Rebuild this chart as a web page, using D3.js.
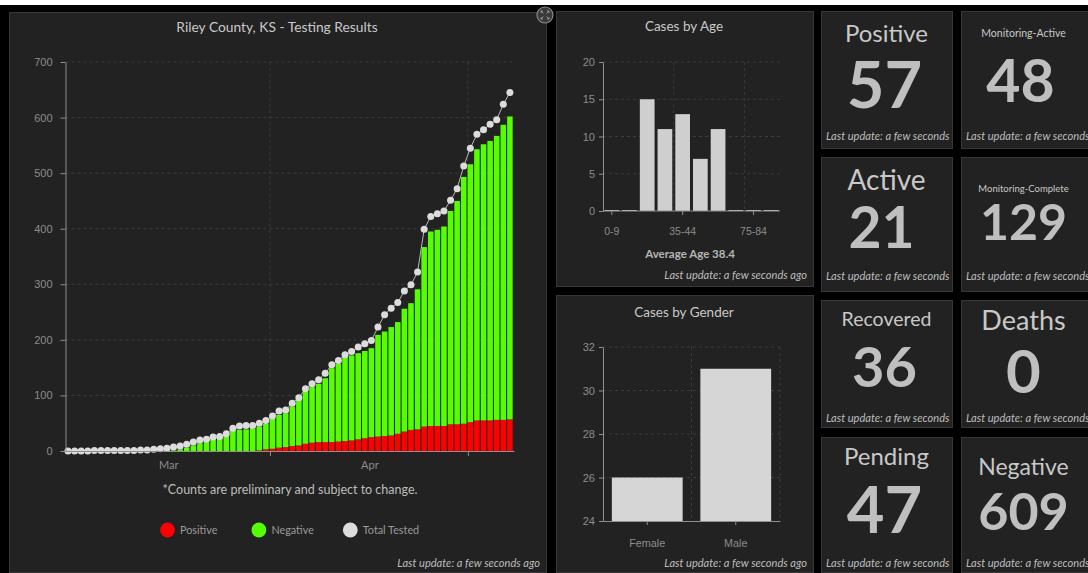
<!DOCTYPE html>
<html>
<head>
<meta charset="utf-8">
<script src="https://cdn.jsdelivr.net/npm/d3@7"></script>
<style>
  html, body { margin: 0; padding: 0; background: #000; }
  svg { display: block; font-family: Lato, "Open Sans", sans-serif; }
</style>
</head>
<body>
<svg id="dash" width="1088" height="573"></svg>
<script>
// ---- data ----
const startDay = '2020-03-01';
const totalTested = [0,0,0,0,1,1,1,1,1,1, 1,2,2,3,4,5,7,9,12,16,
  20,21,25,26,31,41,45,46,46,50, 55,63,72,74,86,96,112,121,128,140,
  155,163,173,179,187,193,199,223,245,257, 267,288,299,322,399,422,427,432,451,472,
  513,545,570,578,588,596,624,645];
const positive = [0,0,0,0,0,0,0,0,0,0, 0,0,0,0,0,0,0,0,0,0,
  0,0,0,0,0,0,0,0,0,1, 3,4,6,7,9,10,13,15,16,16,
  16,17,18,19,21,23,25,26,27,28, 31,35,38,39,44,45,45,45,48,48,
  49,52,55,55,55,56,56,57];
const negative = [0,0,0,0,0,0,0,0,0,0, 0,0,0,0,0,0,1,3,6,10,
  14,16,20,22,28,36,38,39,41,43, 46,55,59,61,71,82,94,100,105,115,
  133,140,151,153,155,157,160,183,188,195, 201,221,228,252,323,350,353,359,384,402,
  444,464,488,497,503,511,531,545];
const yTicksMain = [0,100,200,300,400,500,600,700];
const monthStarts = ['2020-03-01','2020-04-01','2020-05-01'];
const monthLabels = ['Mar','Apr'];
const legendItems = ['Positive','Negative','Total Tested'];

const ageGroups = ['0-9','10-17','18-24','25-34','35-44','45-54','55-64','65-74','75-84','85+'];
const ageCases = [0,0,15,11,13,7,11,0,0,0];
const ageShown = ['0-9','35-44','75-84'];
const ageTicks = [0,5,10,15,20];

const genders = ['Female','Male'];
const genderCases = [26,31];
const genderTicks = [24,26,28,30,32];

const cardTitles = ['Positive','Monitoring-Active','Active','Monitoring-Complete','Recovered','Deaths','Pending','Negative'];
const cardValues = [57,48,21,129,36,0,47,609];

// ---- helpers ----
const svg = d3.select('#dash');
const GRID = '#3b3b3b', AXIS = '#8f8f8f', LABEL = '#8c8c8c', TITLE = '#c9c9c9';
const lastUpdate = 'Last update: a few seconds ago';

svg.append('rect').attr('x', 0).attr('y', 0).attr('width', 1088).attr('height', 5).attr('fill', '#fff');

function panel(x, y, w, h) {
  svg.append('rect').attr('x', x + 0.5).attr('y', y + 0.5).attr('width', w).attr('height', h)
    .attr('fill', '#222').attr('stroke', '#383838');
}
function styleAxis(g, size) {
  g.select('.domain').attr('stroke', AXIS);
  g.selectAll('.tick line').attr('stroke', AXIS);
  g.selectAll('.tick text').attr('fill', LABEL).attr('font-size', size || 11);
}
function footer(xRight, yBase) {
  svg.append('text').attr('x', xRight).attr('y', yBase).attr('text-anchor', 'end')
    .attr('font-style', 'italic').attr('font-size', 11.1).attr('fill', '#bdbdbd').text(lastUpdate);
}

// ---- main testing chart ----
panel(9, 12, 537, 560);
svg.append('text').attr('x', 277).attr('y', 32).attr('text-anchor', 'middle')
  .attr('font-size', 13.8).attr('fill', TITLE).text('Riley County, KS - Testing Results');

const parseDay = d3.utcParse('%Y-%m-%d');
const day0 = parseDay(startDay);
const days = totalTested.map((d, i) => d3.utcDay.offset(day0, i));
const x = d3.scaleUtc().domain([day0, d3.utcDay.offset(day0, totalTested.length)]).range([65.5, 514]);
const y = d3.scaleLinear().domain([0, 700]).range([451, 62]);
const step = x(days[1]) - x(days[0]);
const bw = step * 0.84;
const mid = d => x(d) + step / 2 - 0.8;
const months = monthStarts.map(parseDay);

const gm = svg.append('g');
gm.selectAll('.hgrid').data(yTicksMain.slice(1)).join('line')
  .attr('x1', x.range()[0]).attr('x2', x.range()[1]).attr('y1', d => y(d)).attr('y2', d => y(d))
  .attr('stroke', GRID).attr('stroke-dasharray', '3,3');
gm.selectAll('.vgrid').data(months.slice(1)).join('line')
  .attr('x1', d => x(d)).attr('x2', d => x(d)).attr('y1', y(700)).attr('y2', y(0))
  .attr('stroke', GRID).attr('stroke-dasharray', '3,3');

gm.selectAll('.pos').data(days).join('rect')
  .attr('x', d => mid(d) - bw / 2).attr('width', bw)
  .attr('y', (d, i) => y(positive[i])).attr('height', (d, i) => y(0) - y(positive[i]))
  .attr('fill', '#ff0000');
gm.selectAll('.neg').data(days).join('rect')
  .attr('x', d => mid(d) - bw / 2).attr('width', bw)
  .attr('y', (d, i) => y(positive[i] + negative[i]))
  .attr('height', (d, i) => y(positive[i]) - y(positive[i] + negative[i]))
  .attr('fill', '#55ff00');

const line = d3.line().x(d => mid(d)).y((d, i) => y(totalTested[i]));
gm.append('path').datum(days).attr('d', line).attr('fill', 'none').attr('stroke', '#b8b8b8').attr('stroke-width', 1);
gm.selectAll('.dot').data(days).join('circle')
  .attr('cx', d => mid(d)).attr('cy', (d, i) => y(totalTested[i])).attr('r', 3.5)
  .attr('fill', '#dcdcdc');

const gy = gm.append('g').attr('transform', `translate(${x.range()[0]},0)`)
  .call(d3.axisLeft(y).tickValues(yTicksMain).tickSize(5).tickPadding(8).tickSizeOuter(0));
styleAxis(gy, 11);
const gx = gm.append('g').attr('transform', `translate(0,${y(0)})`)
  .call(d3.axisBottom(x).tickValues(months.slice(1)).tickFormat('').tickSize(5).tickSizeOuter(0));
styleAxis(gx);
gm.selectAll('.mlab').data(monthLabels).join('text')
  .attr('x', (d, i) => (x(months[i]) + x(months[i + 1])) / 2 + 1).attr('y', 469)
  .attr('text-anchor', 'middle').attr('font-size', 11).attr('fill', LABEL).text(d => d);

svg.append('text').attr('x', 290).attr('y', 494).attr('text-anchor', 'middle')
  .attr('font-size', 12.5).attr('fill', '#bdbdbd').text('*Counts are preliminary and subject to change.');
const legendColors = ['#ff0000', '#55ff00', '#dcdcdc'];
const lg = svg.selectAll('.leg').data(legendItems).join('g')
  .attr('transform', (d, i) => `translate(${167.5 + i * 91.4},530)`);
lg.append('circle').attr('r', 7.4).attr('fill', (d, i) => legendColors[i]);
lg.append('text').attr('x', 12.5).attr('y', 4).attr('font-size', 10.8).attr('fill', '#9a9a9a').text(d => d);
footer(540, 567);

// expand icon
const ic = svg.append('g').attr('transform', 'translate(545,15)');
ic.append('circle').attr('r', 8).attr('fill', '#3a3a3a').attr('stroke', '#8a8a8a').attr('stroke-width', 1.2);
[[-1,-1],[1,-1],[-1,1],[1,1]].forEach(([sx, sy]) => {
  ic.append('path').attr('d', `M${sx*1.5},${sy*1.5}L${sx*4},${sy*4}M${sx*4},${sy*2}L${sx*4},${sy*4}L${sx*2},${sy*4}`)
    .attr('stroke', '#9a9a9a').attr('stroke-width', 0.9).attr('fill', 'none');
});

// ---- cases by age ----
panel(556, 11, 257, 275);
svg.append('text').attr('x', 684).attr('y', 31).attr('text-anchor', 'middle')
  .attr('font-size', 13.5).attr('fill', TITLE).text('Cases by Age');
const xa = d3.scaleBand().domain(ageGroups).range([603, 780]).paddingInner(0.17).paddingOuter(0.08);
const ya = d3.scaleLinear().domain([0, 20]).range([211, 62]);
const ga = svg.append('g');
ga.selectAll('.hg').data(ageTicks.slice(1)).join('line')
  .attr('x1', 603).attr('x2', 780).attr('y1', d => ya(d)).attr('y2', d => ya(d))
  .attr('stroke', GRID).attr('stroke-dasharray', '3,3');
ga.selectAll('.vg').data(ageShown.slice(1)).join('line')
  .attr('x1', d => xa(d) - xa.step() * xa.paddingInner() / 2).attr('x2', d => xa(d) - xa.step() * xa.paddingInner() / 2)
  .attr('y1', ya(20)).attr('y2', ya(0)).attr('stroke', GRID).attr('stroke-dasharray', '3,3');
ga.selectAll('.bar').data(ageGroups).join('rect')
  .attr('x', d => xa(d)).attr('width', xa.bandwidth())
  .attr('y', (d, i) => ya(ageCases[i]) - (ageCases[i] ? 0 : 1))
  .attr('height', (d, i) => Math.max(1, ya(0) - ya(ageCases[i])))
  .attr('fill', '#cfcfcf');
const gay = ga.append('g').attr('transform', 'translate(603,0)')
  .call(d3.axisLeft(ya).tickValues(ageTicks).tickSize(4).tickPadding(4).tickSizeOuter(0));
styleAxis(gay, 11);
const gax = ga.append('g').attr('transform', `translate(0,${ya(0)})`)
  .call(d3.axisBottom(xa).tickValues(ageShown).tickSize(4).tickPadding(13).tickSizeOuter(0));
styleAxis(gax, 10.5);
gax.select('.domain').attr('d', 'M603,0H780');
svg.append('text').attr('x', 690).attr('y', 258).attr('text-anchor', 'middle')
  .attr('font-size', 11.5).attr('font-weight', 'bold').attr('fill', '#b5b5b5').text('Average Age 38.4');
footer(807, 279);

// ---- cases by gender ----
panel(556, 295, 257, 277);
svg.append('text').attr('x', 684).attr('y', 317).attr('text-anchor', 'middle')
  .attr('font-size', 13.5).attr('fill', TITLE).text('Cases by Gender');
const xg = d3.scaleBand().domain(genders).range([603, 780]).paddingInner(0.2).paddingOuter(0.1);
const yg = d3.scaleLinear().domain([24, 32]).range([521, 347]);
const gg = svg.append('g');
gg.selectAll('.hg').data(genderTicks.slice(1)).join('line')
  .attr('x1', 603).attr('x2', 780).attr('y1', d => yg(d)).attr('y2', d => yg(d))
  .attr('stroke', GRID).attr('stroke-dasharray', '3,3');
gg.selectAll('.vg').data(genders).join('line')
  .attr('x1', d => xg(d) + xg.bandwidth() + xg.step() * xg.paddingInner() / 2)
  .attr('x2', d => xg(d) + xg.bandwidth() + xg.step() * xg.paddingInner() / 2)
  .attr('y1', yg(32)).attr('y2', yg(24)).attr('stroke', GRID).attr('stroke-dasharray', '3,3');
gg.selectAll('.bar').data(genders).join('rect')
  .attr('x', d => xg(d)).attr('width', xg.bandwidth())
  .attr('y', (d, i) => yg(genderCases[i])).attr('height', (d, i) => yg(24) - yg(genderCases[i]))
  .attr('fill', '#d6d6d6');
const ggy = gg.append('g').attr('transform', 'translate(603,0)')
  .call(d3.axisLeft(yg).tickValues(genderTicks).tickSize(4).tickPadding(4).tickSizeOuter(0));
styleAxis(ggy, 11);
const ggx = gg.append('g').attr('transform', `translate(0,${yg(24)})`)
  .call(d3.axisBottom(xg).tickSize(4).tickPadding(14).tickSizeOuter(0));
styleAxis(ggx, 10.8);
footer(807, 567);

// ---- indicator cards ----
const colX = [821, 961], colCenter = [886.5, 1023.5];
const rowY = [11, 157, 300, 437], rowH = [137, 134, 127, 135];
const footY = [140, 280, 421.5, 566.5];
const titleStyle = [[24, 41.7], [10.5, 36.5], [28, 190], [9.5, 191.5], [19.5, 326], [27, 330], [24, 465], [23, 475]];
const numStyle = [[65, 108.3], [59, 101.5], [57, 248], [50, 240], [56, 386.5], [60, 393], [65, 533], [52, 530]];
const numShift = [-2, -3, -5, 0, -2, 0, -2, 0];

cardTitles.forEach((t, i) => {
  const c = i % 2, r = Math.floor(i / 2);
  const cx = colX[c], cy = rowY[r], w = 131, h = rowH[r];
  panel(cx, cy, w, h);
  const id = 'clip' + i;
  svg.append('clipPath').attr('id', id).append('rect').attr('x', cx + 1).attr('y', cy + 1).attr('width', w - 1).attr('height', h - 1);
  const g = svg.append('g').attr('clip-path', `url(#${id})`);
  g.append('text').attr('x', colCenter[c]).attr('y', titleStyle[i][1]).attr('text-anchor', 'middle')
    .attr('font-size', titleStyle[i][0]).attr('fill', '#c8c8c8').text(t);
  g.append('text').attr('x', colCenter[c] + numShift[i]).attr('y', numStyle[i][1]).attr('text-anchor', 'middle')
    .attr('font-size', numStyle[i][0]).attr('font-weight', 'bold').attr('fill', '#bfbfbf').text(cardValues[i]);
  g.append('text').attr('x', cx + 5).attr('y', footY[r]).attr('font-style', 'italic')
    .attr('font-size', 11.1).attr('fill', '#bdbdbd').text(lastUpdate);
});
</script>
</body>
</html>
